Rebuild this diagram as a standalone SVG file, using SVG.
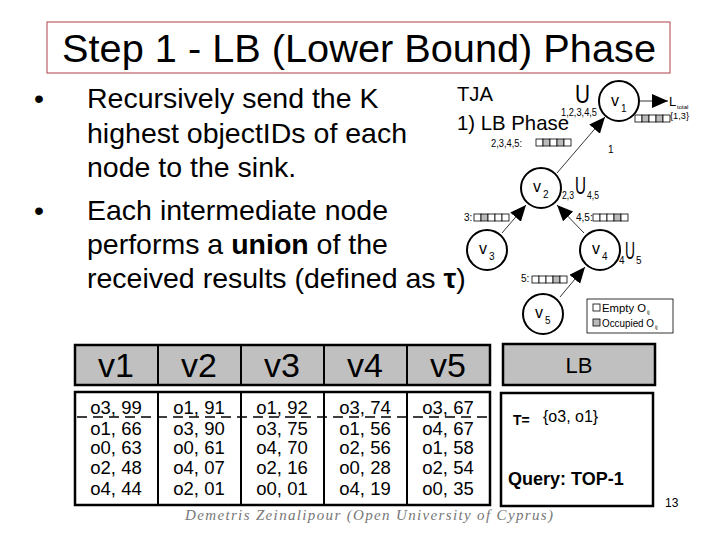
<svg xmlns="http://www.w3.org/2000/svg" width="720" height="540" viewBox="0 0 720 540">
<defs>
<marker id="ah" markerUnits="userSpaceOnUse" markerWidth="17" markerHeight="14" refX="16" refY="7" orient="auto"><path d="M0,0 L16,7 L0,14 Z" fill="#000"/></marker>
<style>
.t{font-family:"Liberation Sans",Arial,sans-serif;fill:#000}
.n{font-family:"Liberation Sans",Arial,sans-serif;font-size:16px}
.s{font-family:"Liberation Sans",Arial,sans-serif;font-size:10px}
.node{fill:#fff;stroke:#000;stroke-width:2}
.edge{stroke:#000;stroke-width:0.8;fill:none}
.c{fill:#fff;stroke:#000;stroke-width:0.8}
.g{fill:#bbb;stroke:#000;stroke-width:0.8}
.hdr{fill:#c0c0c0;stroke:#000;stroke-width:2.5}
.body{fill:#fff;stroke:#000;stroke-width:2.5}
.cell{font-family:"Liberation Sans",Arial,sans-serif;font-size:18.5px;text-anchor:middle}
.big{font-family:"Liberation Sans",Arial,sans-serif;font-size:34px;text-anchor:middle}
</style>
</defs>
<rect width="720" height="540" fill="#fff"/>
<g id="title">
<rect x="47" y="22" width="623" height="51" fill="none" stroke="#b04048" stroke-width="1"/>
<text class="t" x="359" y="62" font-size="38" text-anchor="middle" textLength="594" lengthAdjust="spacingAndGlyphs">Step 1 - LB (Lower Bound) Phase</text>
</g>
<g id="bullets" class="t" font-size="28.5">
<text x="34" y="108">•</text>
<text x="87" y="108">Recursively send the K</text>
<text x="87" y="143">highest objectIDs of each</text>
<text x="87" y="177">node to the sink.</text>
<text x="34" y="220">•</text>
<text x="87" y="220">Each intermediate node</text>
<text x="87" y="254">performs a <tspan font-weight="bold">union</tspan> of the</text>
<text x="87" y="288">received results (defined as <tspan font-weight="bold">τ</tspan>)</text>
</g>
<g id="tja-labels" class="t">
<text x="457" y="101" font-size="21" textLength="36" lengthAdjust="spacingAndGlyphs">TJA</text>
<text x="457" y="130" font-size="21" textLength="112" lengthAdjust="spacingAndGlyphs">1) LB Phase</text>
</g>
<g id="connectors">
<line class="edge" x1="557" y1="173" x2="605" y2="117" marker-end="url(#ah)"/>
<line class="edge" x1="502" y1="233" x2="526" y2="205" marker-end="url(#ah)"/>
<line class="edge" x1="584" y1="233" x2="557" y2="205" marker-end="url(#ah)"/>
<line class="edge" x1="560" y1="297" x2="585" y2="267" marker-end="url(#ah)"/>
<line class="edge" x1="640" y1="101" x2="668" y2="101" marker-end="url(#ah)"/>
</g>
<g id="v1">
<circle class="node" cx="619" cy="101" r="20"/>
<text class="n" x="611" y="106">v</text><text class="s" x="621" y="112">1</text>
<text class="t" x="575" y="103" font-size="25" textLength="15" lengthAdjust="spacingAndGlyphs">U</text>
<text class="s" x="561" y="116" textLength="36" lengthAdjust="spacingAndGlyphs">1,2,3,4,5</text>
<text class="t" x="669" y="106" font-size="13">L</text><text class="t" x="677" y="109" font-size="6">total</text>
<text class="t" x="670" y="119" font-size="9" textLength="19" lengthAdjust="spacingAndGlyphs">{1,3}</text>
<rect class="c" x="635" y="115" width="7" height="7"/><rect class="g" x="642" y="115" width="7" height="7"/><rect class="c" x="649" y="115" width="7" height="7"/><rect class="g" x="656" y="115" width="7" height="7"/><rect class="c" x="663" y="115" width="7" height="7"/>
<text class="t" x="608" y="153" font-size="10">1</text>
</g>
<g id="v2">
<circle class="node" cx="541" cy="188" r="20"/>
<text class="n" x="533" y="192">v</text><text class="s" x="543" y="198">2</text>
<text class="s" x="562" y="199" textLength="12" lengthAdjust="spacingAndGlyphs">2,3</text>
<text class="t" x="575" y="194" font-size="23" textLength="11" lengthAdjust="spacingAndGlyphs">U</text>
<text class="s" x="587" y="199" textLength="12" lengthAdjust="spacingAndGlyphs">4,5</text>
<text class="s" x="491" y="147" textLength="31" lengthAdjust="spacingAndGlyphs">2,3,4,5:</text>
<rect class="c" x="536" y="139" width="7" height="7"/><rect class="g" x="543" y="139" width="7" height="7"/><rect class="c" x="550" y="139" width="7" height="7"/><rect class="g" x="557" y="139" width="7" height="7"/><rect class="c" x="564" y="139" width="7" height="7"/>
</g>
<g id="v3">
<circle class="node" cx="487" cy="250" r="20"/>
<text class="n" x="479" y="254">v</text><text class="s" x="489" y="260">3</text>
<text class="s" x="464" y="221">3:</text>
<rect class="c" x="474" y="214" width="7" height="7"/><rect class="g" x="481" y="214" width="7" height="7"/><rect class="c" x="488" y="214" width="7" height="7"/><rect class="c" x="495" y="214" width="7" height="7"/><rect class="c" x="502" y="214" width="7" height="7"/>
</g>
<g id="v4">
<circle class="node" cx="600" cy="250" r="20"/>
<text class="n" x="592" y="254">v</text><text class="s" x="602" y="260">4</text>
<text class="s" x="619" y="264">4</text>
<text class="t" x="625" y="259" font-size="23" textLength="10" lengthAdjust="spacingAndGlyphs">U</text>
<text class="s" x="636" y="264">5</text>
<text class="s" x="576" y="221">4,5:</text>
<rect class="c" x="593" y="214" width="7" height="7"/><rect class="c" x="600" y="214" width="7" height="7"/><rect class="c" x="607" y="214" width="7" height="7"/><rect class="g" x="614" y="214" width="7" height="7"/><rect class="c" x="621" y="214" width="7" height="7"/>
</g>
<g id="v5">
<circle class="node" cx="543" cy="314" r="20"/>
<text class="n" x="535" y="318">v</text><text class="s" x="545" y="324">5</text>
<text class="s" x="521" y="282">5:</text>
<rect class="c" x="532" y="276" width="7" height="7"/><rect class="c" x="539" y="276" width="7" height="7"/><rect class="c" x="546" y="276" width="7" height="7"/><rect class="g" x="553" y="276" width="7" height="7"/><rect class="c" x="560" y="276" width="7" height="7"/>
</g>
<g id="legend">
<rect x="587" y="299" width="86" height="34" fill="#fff" stroke="#000" stroke-width="0.8"/>
<rect class="c" x="593" y="304" width="7" height="7"/>
<text class="s" x="602" y="312" textLength="44" lengthAdjust="spacingAndGlyphs">Empty O</text><text class="t" x="647" y="314" font-size="6">ij</text>
<rect class="g" x="593" y="319" width="7" height="7"/>
<text class="s" x="602" y="327" textLength="52" lengthAdjust="spacingAndGlyphs">Occupied O</text><text class="t" x="655" y="329" font-size="6">ij</text>
</g>
<g id="table">
<rect class="hdr" x="75" y="345" width="415" height="40"/>
<line x1="158" y1="345" x2="158" y2="385" stroke="#000" stroke-width="2"/>
<line x1="241" y1="345" x2="241" y2="385" stroke="#000" stroke-width="2"/>
<line x1="324" y1="345" x2="324" y2="385" stroke="#000" stroke-width="2"/>
<line x1="407" y1="345" x2="407" y2="385" stroke="#000" stroke-width="2"/>
<text class="big" x="116" y="377">v1</text>
<text class="big" x="199" y="377">v2</text>
<text class="big" x="282" y="377">v3</text>
<text class="big" x="365" y="377">v4</text>
<text class="big" x="448" y="377">v5</text>
<rect class="body" x="75" y="392" width="415" height="113"/>
<line x1="158" y1="392" x2="158" y2="505" stroke="#000" stroke-width="2"/>
<line x1="241" y1="392" x2="241" y2="505" stroke="#000" stroke-width="2"/>
<line x1="324" y1="392" x2="324" y2="505" stroke="#000" stroke-width="2"/>
<line x1="407" y1="392" x2="407" y2="505" stroke="#000" stroke-width="2"/>
<line x1="77" y1="417" x2="490" y2="417" stroke="#000" stroke-width="1.5" stroke-dasharray="10,6"/>
<g class="cell">
<text x="116" y="414">o3, 99</text><text x="116" y="435">o1, 66</text><text x="116" y="454">o0, 63</text><text x="116" y="474">o2, 48</text><text x="116" y="495">o4, 44</text>
<text x="199" y="414">o1, 91</text><text x="199" y="435">o3, 90</text><text x="199" y="454">o0, 61</text><text x="199" y="474">o4, 07</text><text x="199" y="495">o2, 01</text>
<text x="282" y="414">o1, 92</text><text x="282" y="435">o3, 75</text><text x="282" y="454">o4, 70</text><text x="282" y="474">o2, 16</text><text x="282" y="495">o0, 01</text>
<text x="365" y="414">o3, 74</text><text x="365" y="435">o1, 56</text><text x="365" y="454">o2, 56</text><text x="365" y="474">o0, 28</text><text x="365" y="495">o4, 19</text>
<text x="448" y="414">o3, 67</text><text x="448" y="435">o4, 67</text><text x="448" y="454">o1, 58</text><text x="448" y="474">o2, 54</text><text x="448" y="495">o0, 35</text>
</g>
</g>
<g id="lb">
<rect class="hdr" x="503" y="344" width="152" height="41"/>
<text class="t" x="579" y="373" font-size="22" text-anchor="middle">LB</text>
<rect class="body" x="501" y="393" width="152" height="113"/>
<text class="t" x="513" y="425" font-size="14" font-weight="bold">T=</text>
<text class="t" x="543" y="422" font-size="16">{o3, o1}</text>
<text class="t" x="508" y="485" font-size="18" font-weight="bold">Query: TOP-1</text>
</g>
<g id="footer">
<text x="185" y="520" font-family="'Liberation Serif','Times New Roman',serif" font-style="italic" font-size="15" fill="#777" textLength="368" lengthAdjust="spacing">Demetris Zeinalipour  (Open University of Cyprus)</text>
<text class="t" x="665" y="507" font-size="12">13</text>
</g>
</svg>
